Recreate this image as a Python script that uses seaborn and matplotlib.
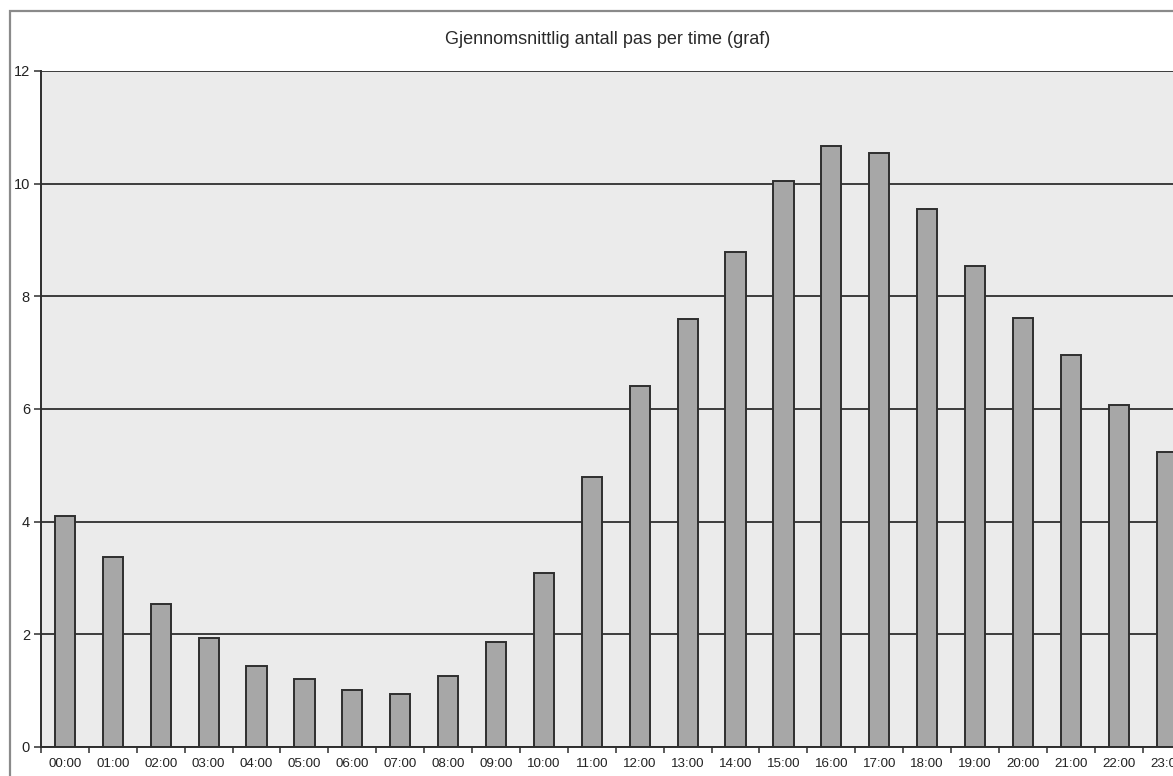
import matplotlib
matplotlib.use("Agg")
import matplotlib.pyplot as plt
from matplotlib.patches import Rectangle
from matplotlib.ticker import FixedLocator
import seaborn as sns
import pandas as pd

# Average number of passes per hour of the day
hours = [f"{h:02d}:00" for h in range(24)]
avg_passes = [4.10, 3.38, 2.54, 1.94, 1.44, 1.20, 1.02, 0.94,
              1.26, 1.87, 3.08, 4.80, 6.40, 7.60, 8.79, 10.05,
              10.67, 10.54, 9.55, 8.54, 7.62, 6.96, 6.07, 5.23]
y_ticks = [0, 2, 4, 6, 8, 10, 12]
title = "Gjennomsnittlig antall pas per time (graf)"

df = pd.DataFrame({"time": hours, "pas": avg_passes})

sns.set_theme(style="white")
plt.rcParams["font.family"] = ["Liberation Sans", "DejaVu Sans"]

W, H = 1173, 776
fig = plt.figure(figsize=(W / 100, H / 100), dpi=100)
fig.patch.set_facecolor("white")

# plot area: 24 categories of ~47.9 px, running past the right edge of the sheet
left_px, top_px, bottom_px = 41, 71, 747
cat_px = 47.9
ax = fig.add_axes([left_px / W, (H - bottom_px) / H,
                   24 * cat_px / W, (bottom_px - top_px) / H])
ax.set_facecolor("#ebebeb")

sns.barplot(data=df, x="time", y="pas", ax=ax, color="#a7a7a7",
            saturation=1, width=0.42, edgecolor="#2e2e2e", linewidth=1.4)

ax.set_xlim(-0.5, 23.5)
ax.set_ylim(0, 12)
ax.set_yticks(y_ticks)
ax.set_xlabel("")
ax.set_ylabel("")

# horizontal gridlines
ax.set_axisbelow(True)
ax.yaxis.grid(True, color="#3c3c3c", linewidth=1.4)
ax.xaxis.grid(False)

for side in ("top", "right"):
    ax.spines[side].set_visible(False)
for side in ("left", "bottom"):
    ax.spines[side].set_color("#2e2e2e")
    ax.spines[side].set_linewidth(1.4)

# category ticks sit between the bars, labels centred under them
ax.xaxis.set_minor_locator(FixedLocator([k - 0.5 for k in range(25)]))
ax.tick_params(axis="x", which="major", length=0, pad=8,
               labelsize=9.6, labelcolor="#222222")
ax.tick_params(axis="x", which="minor", bottom=True, length=4,
               width=1.1, color="#2e2e2e", direction="out")
ax.tick_params(axis="y", which="major", left=True, length=5, width=1.1,
               color="#2e2e2e", direction="out", pad=3,
               labelsize=10.5, labelcolor="#222222")

fig.text(608 / W, 1 - 40 / H, title, ha="center", va="center",
         fontsize=13, color="#2a2a2a")

# outer chart frame
fig.patches.append(Rectangle((10 / W, -0.1), 1.2, 1.1 - 11.5 / H,
                             transform=fig.transFigure, fill=False,
                             edgecolor="#8a8a8a", linewidth=1.6))

fig.savefig("out.png", dpi=100)
